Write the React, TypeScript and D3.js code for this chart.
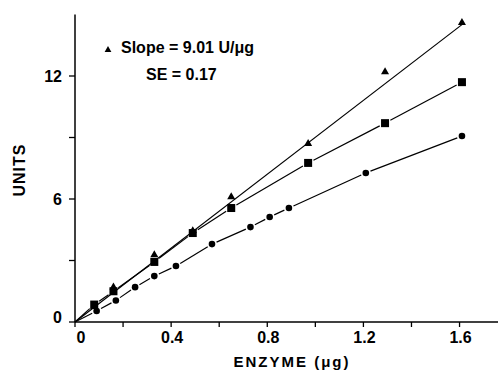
import { useEffect, useRef } from 'react';
import * as d3 from 'd3';

// enzyme amounts (ug) and activity (units)
const triEnzyme = [0.08, 0.16, 0.33, 0.49, 0.65, 0.97, 1.29, 1.61];
const triUnits = [0.75, 1.7, 3.27, 4.45, 6.1, 8.7, 12.2, 14.6];

const sqEnzyme = [0.08, 0.16, 0.33, 0.49, 0.65, 0.97, 1.29, 1.61];
const sqUnits = [0.85, 1.5, 2.93, 4.34, 5.56, 7.76, 9.7, 11.7];

const circEnzyme = [0.09, 0.17, 0.25, 0.33, 0.42, 0.57, 0.73, 0.81, 0.89, 1.21, 1.61];
const circUnits = [0.54, 1.05, 1.7, 2.24, 2.73, 3.8, 4.63, 5.12, 5.56, 7.27, 9.07];

const slopeValue = 9.01;
const slopeSE = 0.17;

const yTicks = [0, 3, 6, 9, 12];
const yTickLabels = ['0', '', '6', '', '12'];
const xTicks = [0, 0.2, 0.4, 0.6, 0.8, 1.0, 1.2, 1.4, 1.6];
const xTickLabels = ['0', '', '0.4', '', '0.8', '', '1.2', '', '1.6'];

export default function App() {
    const svgRef = useRef<SVGSVGElement>(null);

    useEffect(() => {
        if (!svgRef.current) return;
        const svg = d3.select(svgRef.current);
        svg.selectAll('*').remove();

        const font = '"Liberation Sans", Arial, Helvetica, sans-serif';
        const x = d3.scaleLinear().domain([0, 1.76]).range([75, 498]);
        const y = d3.scaleLinear().domain([0, 15]).range([322, 14.5]);

        const g = svg.append('g');

        // axes
        g.append('line')
            .attr('x1', x(0)).attr('x2', x(0))
            .attr('y1', y(0)).attr('y2', y(15))
            .attr('stroke', '#000').attr('stroke-width', 1.5);
        g.append('line')
            .attr('x1', x(0)).attr('x2', x(1.76))
            .attr('y1', y(0)).attr('y2', y(0))
            .attr('stroke', '#000').attr('stroke-width', 1.5);

        yTicks.forEach((t, i) => {
            g.append('line')
                .attr('x1', x(0) - 6).attr('x2', x(0))
                .attr('y1', y(t)).attr('y2', y(t))
                .attr('stroke', '#000').attr('stroke-width', 1.3);
            if (yTickLabels[i]) {
                g.append('text')
                    .attr('x', 62)
                    .attr('y', y(t) + 5.5 - (t === 0 ? 5 : 0))
                    .attr('text-anchor', 'end')
                    .attr('font-family', font)
                    .attr('font-weight', 700)
                    .attr('font-size', '16px')
                    .text(yTickLabels[i]);
            }
        });

        xTicks.forEach((t, i) => {
            g.append('line')
                .attr('x1', x(t)).attr('x2', x(t))
                .attr('y1', y(0)).attr('y2', y(0) + 5)
                .attr('stroke', '#000').attr('stroke-width', 1.3);
            if (xTickLabels[i]) {
                g.append('text')
                    .attr('x', x(t) + (t === 0 ? 6 : 1))
                    .attr('y', 343)
                    .attr('text-anchor', 'middle')
                    .attr('font-family', font)
                    .attr('font-weight', 700)
                    .attr('font-size', '16px')
                    .text(xTickLabels[i]);
            }
        });

        // axis titles
        g.append('text')
            .attr('x', 292).attr('y', 367)
            .attr('text-anchor', 'middle')
            .attr('font-family', font)
            .attr('font-weight', 700)
            .attr('font-size', '15px')
            .attr('letter-spacing', '2px')
            .text('ENZYME (μg)');
        g.append('text')
            .attr('transform', 'translate(25,170) rotate(-90)')
            .attr('text-anchor', 'middle')
            .attr('font-family', font)
            .attr('font-weight', 700)
            .attr('font-size', '16px')
            .attr('letter-spacing', '1px')
            .text('UNITS');

        // fitted line for triangle series
        g.append('line')
            .attr('x1', x(0)).attr('y1', y(0))
            .attr('x2', x(1.61)).attr('y2', y(slopeValue * 1.61))
            .attr('stroke', '#000').attr('stroke-width', 1.2);

        // broken connecting lines, with a gap around each marker
        const segments = (xs: number[], ys: number[], gap: number) => {
            const pts = [[0, 0], ...xs.map((v, i) => [v, ys[i]])].map(p => [x(p[0]), y(p[1])]);
            for (let i = 0; i < pts.length - 1; i++) {
                const [x1, y1] = pts[i];
                const [x2, y2] = pts[i + 1];
                const len = Math.hypot(x2 - x1, y2 - y1);
                const g1 = i === 0 ? 0 : gap;
                if (len <= g1 + gap + 2) continue;
                const ux = (x2 - x1) / len;
                const uy = (y2 - y1) / len;
                g.append('line')
                    .attr('x1', x1 + ux * g1).attr('y1', y1 + uy * g1)
                    .attr('x2', x2 - ux * gap).attr('y2', y2 - uy * gap)
                    .attr('stroke', '#000').attr('stroke-width', 1.2);
            }
        };
        segments(sqEnzyme, sqUnits, 6);
        segments(circEnzyme, circUnits, 5);

        // markers
        const tri = d3.symbol().type(d3.symbolTriangle).size(28);
        triEnzyme.forEach((v, i) => {
            g.append('path')
                .attr('d', tri()!)
                .attr('transform', `translate(${x(v)},${y(triUnits[i])})`)
                .attr('fill', '#000');
        });
        sqEnzyme.forEach((v, i) => {
            g.append('rect')
                .attr('x', x(v) - 4).attr('y', y(sqUnits[i]) - 4)
                .attr('width', 8).attr('height', 8)
                .attr('fill', '#000');
        });
        circEnzyme.forEach((v, i) => {
            g.append('circle')
                .attr('cx', x(v)).attr('cy', y(circUnits[i]))
                .attr('r', 3.3)
                .attr('fill', '#000');
        });

        // annotation
        g.append('path')
            .attr('d', d3.symbol().type(d3.symbolTriangle).size(20)()!)
            .attr('transform', 'translate(108,50)')
            .attr('fill', '#000');
        g.append('text')
            .attr('x', 121).attr('y', 53)
            .attr('font-family', font)
            .attr('font-weight', 700)
            .attr('font-size', '16px')
            .text(`Slope = ${slopeValue.toFixed(2)} U/μg`);
        g.append('text')
            .attr('x', 146).attr('y', 80)
            .attr('font-family', font)
            .attr('font-weight', 700)
            .attr('font-size', '16px')
            .text(`SE = ${slopeSE.toFixed(2)}`);
    }, []);

    return (
        <svg
            ref={svgRef}
            width="500"
            height="371"
            style={{ position: 'absolute', left: 0, top: 0, background: '#fff' }}
        />
    );
}
